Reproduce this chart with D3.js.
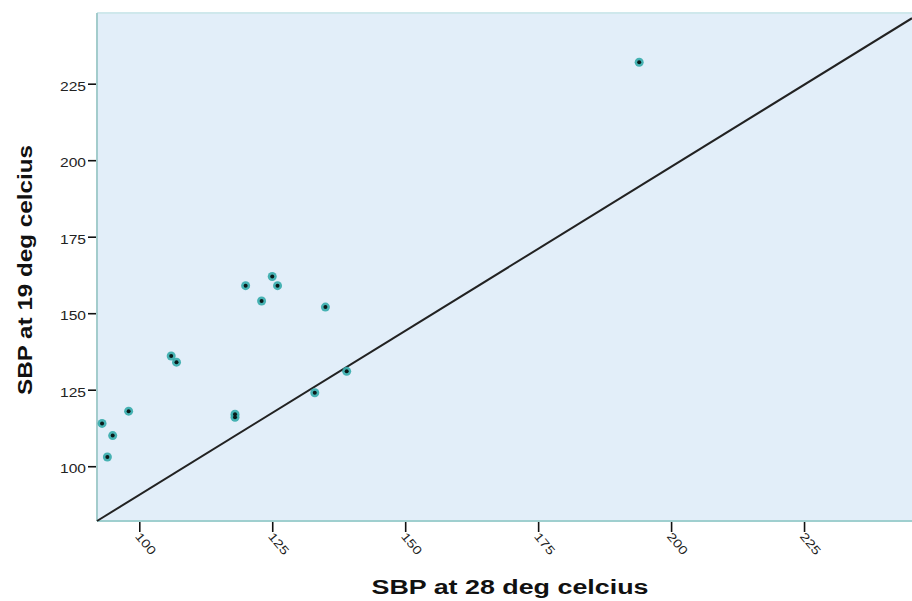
<!DOCTYPE html>
<html>
<head>
<meta charset="utf-8">
<script src="https://cdn.jsdelivr.net/npm/d3@7"></script>
<style>
  body { margin: 0; background: #fff; }
  svg { display: block; }
</style>
</head>
<body>
<svg width="912" height="601"></svg>
<script>
// SBP readings, one entry per subject
const sbp28 = [93, 94, 95, 98, 106, 107, 118, 118, 120, 123, 125, 126, 135, 133, 139, 194];
const sbp19 = [114, 103, 110, 118, 136, 134, 117, 116, 159, 154, 162, 159, 152, 124, 131, 232];
const xTicks = [100, 125, 150, 175, 200, 225];
const yTicks = [100, 125, 150, 175, 200, 225];
// reference line end points (data units)
const refX = [92.05, 245.3];
const refY = [82.1, 246.4];

let margin = { top: 13, left: 97 },
  width = 815,
  height = 508;

let svg = d3.select('svg');

let x = d3.scaleLinear().domain([92.05, 245.3]).range([margin.left, margin.left + width]);
let y = d3.scaleLinear().domain([82.1, 248.1]).range([margin.top + height, margin.top]);

// plot background
svg.append('rect')
  .attr('x', margin.left)
  .attr('y', margin.top)
  .attr('width', width + 10)
  .attr('height', height)
  .attr('fill', '#e2eef9');

// frame
svg.append('line')
  .attr('x1', margin.left).attr('x2', margin.left + width + 10)
  .attr('y1', margin.top).attr('y2', margin.top)
  .attr('stroke', '#cfe8ec').attr('stroke-width', 2);
svg.append('line')
  .attr('x1', margin.left).attr('x2', margin.left + width + 10)
  .attr('y1', margin.top + height).attr('y2', margin.top + height)
  .attr('stroke', '#9fcfcf').attr('stroke-width', 2);
svg.append('line')
  .attr('x1', margin.left).attr('x2', margin.left)
  .attr('y1', margin.top).attr('y2', margin.top + height)
  .attr('stroke', '#a3cccc').attr('stroke-width', 2);

// y axis
let yAxis = svg.append('g')
  .attr('transform', 'translate(' + (margin.left - 1) + ',0)')
  .call(d3.axisLeft(y).tickValues(yTicks).tickSize(8).tickPadding(2));
yAxis.select('.domain').remove();
yAxis.selectAll('line').attr('stroke', '#111').attr('stroke-width', 1.6);
yAxis.selectAll('text')
  .attr('font-family', 'Arial, "Liberation Sans", sans-serif')
  .attr('font-size', 12)
  .attr('fill', '#222')
  .attr('dy', '0.55em')
  .attr('textLength', 26)
  .attr('lengthAdjust', 'spacingAndGlyphs');

// x axis
let xAxis = svg.append('g')
  .attr('transform', 'translate(0,' + (margin.top + height + 1) + ')')
  .call(d3.axisBottom(x).tickValues(xTicks).tickSize(10).tickPadding(2));
xAxis.select('.domain').remove();
xAxis.selectAll('line').attr('stroke', '#111').attr('stroke-width', 1.6);
xAxis.selectAll('text')
  .attr('font-family', 'Arial, "Liberation Sans", sans-serif')
  .attr('font-size', 12)
  .attr('fill', '#222')
  .attr('text-anchor', 'start')
  .attr('x', 0).attr('y', 0).attr('dy', '0.35em')
  .attr('transform', 'translate(-2,12) rotate(50)')
  .attr('textLength', 25)
  .attr('lengthAdjust', 'spacingAndGlyphs');

// reference line
svg.append('path')
  .datum(d3.zip(refX, refY))
  .attr('fill', 'none')
  .attr('stroke', '#222')
  .attr('stroke-width', 2)
  .attr('d', d3.line().x(d => x(d[0])).y(d => y(d[1])));

// points
let pts = d3.zip(sbp28, sbp19);
svg.append('g').selectAll('circle')
  .data(pts).join('circle')
  .attr('cx', d => x(d[0])).attr('cy', d => y(d[1]))
  .attr('r', 4.5)
  .attr('fill', '#35abab')
  .attr('opacity', 0.9);
svg.append('g').selectAll('circle')
  .data(pts).join('circle')
  .attr('cx', d => x(d[0])).attr('cy', d => y(d[1]))
  .attr('r', 2)
  .attr('fill', '#0a1a1a');

// axis titles
svg.append('text')
  .attr('x', 510).attr('y', 594)
  .attr('text-anchor', 'middle')
  .attr('font-family', 'Arial, "Liberation Sans", sans-serif')
  .attr('font-weight', 'bold')
  .attr('font-size', 20)
  .attr('fill', '#111')
  .attr('textLength', 277)
  .attr('lengthAdjust', 'spacingAndGlyphs')
  .text('SBP at 28 deg celcius');

svg.append('text')
  .attr('transform', 'translate(32,270) rotate(-90)')
  .attr('text-anchor', 'middle')
  .attr('font-family', 'Arial, "Liberation Sans", sans-serif')
  .attr('font-weight', 'bold')
  .attr('font-size', 20)
  .attr('fill', '#111')
  .attr('textLength', 250)
  .attr('lengthAdjust', 'spacingAndGlyphs')
  .text('SBP at 19 deg celcius');
</script>
</body>
</html>
